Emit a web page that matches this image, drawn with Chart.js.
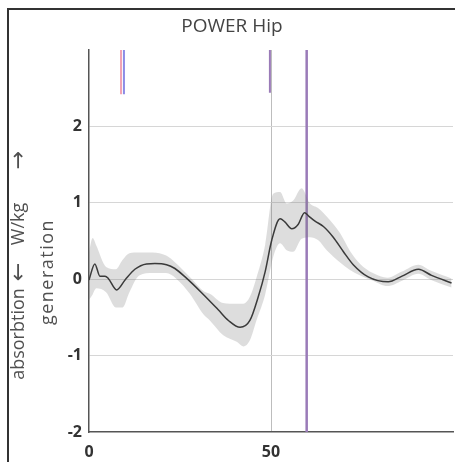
<!DOCTYPE html>
<html>
<head>
<meta charset="utf-8">
<title>POWER Hip</title>
<script src="https://cdn.jsdelivr.net/npm/chart.js@4.4.1/dist/chart.umd.min.js"></script>
<style>
  html, body { margin: 0; padding: 0; background: #fff; overflow: hidden; }
</style>
</head>
<body>
<canvas id="powerChart" width="455" height="462"></canvas>
<script>
// mean hip power, % gait cycle -> W/kg
const meanX = [0, 1.6, 3, 4.4, 5.3, 7.6, 9.9, 12.6, 15.8, 18.1, 21.3, 23.6, 26.4, 31, 35.5, 38.3, 41.5, 44.2, 46.5, 48.4,
  50.2, 52.5, 53.8, 55.7, 57.5, 59.2, 60.5, 62.1, 64.4, 67.1, 69.9, 72.6, 76.7, 82.2, 86, 90.5, 94.1, 99.6];
const meanY = [-0.01, 0.20, 0.04, 0.04, 0.01, -0.14, -0.01, 0.13, 0.20, 0.205, 0.19, 0.14, 0.03, -0.18, -0.40, -0.54, -0.63, -0.54, -0.23, 0.10,
  0.51, 0.79, 0.75, 0.66, 0.72, 0.87, 0.82, 0.76, 0.69, 0.55, 0.36, 0.19, 0.03, -0.035, 0.04, 0.13, 0.05, -0.05];

// spread band (upper / lower)
const bandX = [0, 1, 2, 4.7, 7.4, 9.2, 11.1, 13.8, 17.5, 21.2, 23.9, 27.7, 31.6, 33.2, 36.8, 40.6, 42.4, 44.2, 46, 48.4,
  50.6, 52.5, 54.3, 56.1, 58.4, 60.7, 63, 65.3, 69, 71.7, 74.5, 78, 82, 86, 90.5, 94, 99.6];
const bandUpper = [0.35, 0.54, 0.44, 0.16, 0.13, 0.25, 0.34, 0.35, 0.35, 0.31, 0.21, 0.03, -0.16, -0.19, -0.31, -0.32, -0.32, -0.23, 0.02, 0.45,
  1.12, 1.14, 0.99, 1.03, 1.19, 0.99, 0.93, 0.82, 0.60, 0.37, 0.20, 0.08, 0.02, 0.10, 0.19, 0.11, 0.01];
const bandLower = [-0.27, -0.2, -0.12, -0.17, -0.37, -0.37, -0.17, 0.05, 0.08, 0.08, 0.01, -0.19, -0.47, -0.54, -0.73, -0.82, -0.88, -0.80, -0.54, -0.20,
  0.29, 0.47, 0.38, 0.36, 0.53, 0.55, 0.51, 0.38, 0.22, 0.12, 0.05, -0.02, -0.09, -0.02, 0.07, -0.01, -0.11];

// event markers (x position, top and bottom value, colour)
const markerX = [8.8, 9.6, 49.7, 59.8];
const markerTop = [3, 3, 3, 3];
const markerBottom = [2.42, 2.42, 2.44, -2];
const markerColors = ["#f2a3b3", "#8c8ce6", "#9a7bb8", "#9a7bb8"];
const markerWidths = [2, 2, 2, 2.5];

const yTicks = [-2, -1, 0, 1, 2];
const xTicks = [0, 50];

function pts(xs, ys) {
    return xs.map((x, i) => ({ x: x, y: ys[i] }));
}

const datasets = [];
markerX.forEach((x, i) => {
    datasets.push({
        data: [{ x: x, y: markerTop[i] }, { x: x, y: markerBottom[i] }],
        borderColor: markerColors[i],
        borderWidth: markerWidths[i],
        pointRadius: 0,
        pointHoverRadius: 0,
        fill: false,
        order: 10
    });
});
const upperIndex = datasets.length;
datasets.push({
    data: pts(bandX, bandUpper),
    borderWidth: 0,
    borderColor: "rgba(0,0,0,0)",
    backgroundColor: "rgba(120,120,120,0.25)",
    pointRadius: 0,
    pointHoverRadius: 0,
    cubicInterpolationMode: "monotone",
    fill: upperIndex + 1,
    order: 5
});
datasets.push({
    data: pts(bandX, bandLower),
    borderWidth: 0,
    borderColor: "rgba(0,0,0,0)",
    pointRadius: 0,
    pointHoverRadius: 0,
    cubicInterpolationMode: "monotone",
    fill: false,
    order: 5
});
datasets.push({
    data: pts(meanX, meanY),
    borderColor: "#3a3a3a",
    borderWidth: 1.5,
    pointRadius: 0,
    pointHoverRadius: 0,
    cubicInterpolationMode: "monotone",
    fill: false,
    order: 0
});

// frame, title and y axis caption drawn straight on the canvas
const captions = {
    id: "captions",
    beforeDraw(chart) {
        const ctx = chart.ctx;
        ctx.save();
        ctx.fillStyle = "#fff";
        ctx.fillRect(0, 0, chart.width, chart.height);
        ctx.strokeStyle = "#333";
        ctx.lineWidth = 2;
        ctx.beginPath();
        ctx.moveTo(8, chart.height);
        ctx.lineTo(8, 9);
        ctx.lineTo(chart.width, 9);
        ctx.stroke();
        ctx.restore();
    },
    afterDraw(chart) {
        const ctx = chart.ctx;
        ctx.save();
        ctx.fillStyle = "#444";
        ctx.textAlign = "center";
        ctx.textBaseline = "middle";
        ctx.font = "19px 'Open Sans'";
        ctx.fillText("POWER Hip", 232, 27);

        ctx.fillStyle = "#505050";
        const side = [["absorbtion", 334, "18px 'Open Sans'"], ["←", 272, "22px 'DejaVu Sans'"],
                      ["W/kg", 224, "18px 'Open Sans'"], ["→", 160, "22px 'DejaVu Sans'"]];
        side.forEach(([t, y, f]) => {
            ctx.save();
            ctx.font = f;
            ctx.translate(19, y);
            ctx.rotate(-Math.PI / 2);
            ctx.fillText(t, 0, 0);
            ctx.restore();
        });
        ctx.save();
        ctx.font = "18px 'Open Sans'";
        ctx.translate(48, 272);
        ctx.rotate(-Math.PI / 2);
        ctx.letterSpacing = "1.5px";
        ctx.fillText("generation", 0, 0);
        ctx.restore();
        ctx.restore();
    }
};

new Chart(document.getElementById("powerChart").getContext("2d"), {
    type: "line",
    data: { datasets: datasets },
    options: {
        responsive: false,
        animation: false,
        events: [],
        layout: { autoPadding: false, padding: { top: 50, right: 2, left: 0, bottom: 0 } },
        plugins: { legend: { display: false }, tooltip: { enabled: false } },
        scales: {
            x: {
                type: "linear",
                min: 0,
                max: 100,
                afterFit: (s) => { s.height = 30; s.paddingRight = 0; },
                afterBuildTicks: (s) => { s.ticks = [0, 50, 100].map(v => ({ value: v })); },
                ticks: {
                    padding: 11,
                    color: "#333",
                    font: { family: "'Open Sans'", size: 16, weight: "bold" },
                    callback: (v) => xTicks.includes(v) ? String(v) : ""
                },
                grid: {
                    drawTicks: false,
                    color: (c) => c.tick && c.tick.value === 50 ? "#bdbdbd" : "rgba(0,0,0,0)",
                    lineWidth: 1
                },
                border: { color: "#555", width: 1.5 }
            },
            y: {
                min: -2,
                max: 3,
                afterFit: (s) => { s.width = 89; },
                afterBuildTicks: (s) => { s.ticks = [-2, -1, 0, 1, 2, 3].map(v => ({ value: v })); },
                ticks: {
                    padding: 7,
                    color: "#333",
                    font: { family: "'Open Sans'", size: 16, weight: "bold" },
                    callback: (v) => yTicks.includes(v) ? String(v) : ""
                },
                grid: {
                    drawTicks: false,
                    color: (c) => c.tick && (c.tick.value === 3 || c.tick.value === -2) ? "rgba(0,0,0,0)" : "#d6d6d6",
                    lineWidth: 1
                },
                border: { color: "#555", width: 1.5 }
            }
        }
    },
    plugins: [captions]
});
</script>
</body>
</html>
